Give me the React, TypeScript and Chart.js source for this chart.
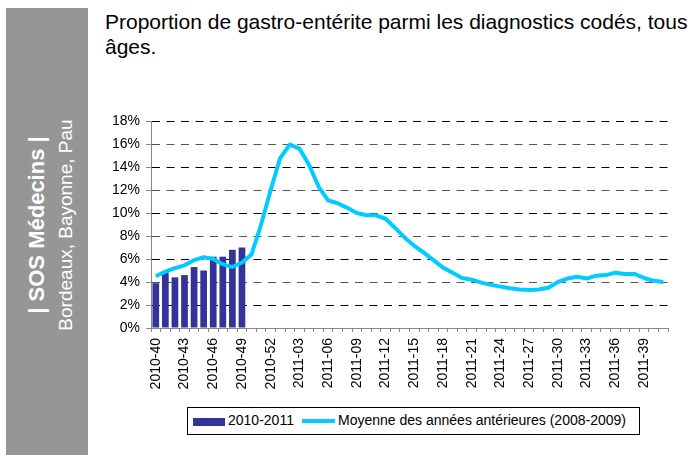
import React, { useEffect, useRef } from "react";
import { Chart, registerables } from "chart.js";

Chart.register(...registerables);

const categories = [
  "2010-40", "2010-41", "2010-42", "2010-43", "2010-44", "2010-45", "2010-46", "2010-47", "2010-48",
  "2010-49", "2010-50", "2010-51", "2010-52",
  "2011-01", "2011-02", "2011-03", "2011-04", "2011-05", "2011-06", "2011-07", "2011-08", "2011-09",
  "2011-10", "2011-11", "2011-12", "2011-13", "2011-14", "2011-15", "2011-16", "2011-17", "2011-18",
  "2011-19", "2011-20", "2011-21", "2011-22", "2011-23", "2011-24", "2011-25", "2011-26", "2011-27",
  "2011-28", "2011-29", "2011-30", "2011-31", "2011-32", "2011-33", "2011-34", "2011-35", "2011-36",
  "2011-37", "2011-38", "2011-39", "2011-40", "2011-41",
];

const seriesBars = [3.9, 4.8, 4.4, 4.6, 5.3, 5.0, 6.2, 6.2, 6.8, 7.0];

const seriesAverage = [
  4.5, 4.9, 5.2, 5.45, 5.9, 6.15, 6.0, 5.55, 5.3, 5.7,
  6.4, 9.0, 12.0, 14.8, 15.95, 15.6, 14.2, 12.3, 11.1, 10.85,
  10.45, 10.0, 9.8, 9.8, 9.5, 8.7, 7.85, 7.15, 6.55, 5.9,
  5.25, 4.8, 4.35, 4.2, 3.95, 3.75, 3.6, 3.45, 3.35, 3.3,
  3.35, 3.5, 4.0, 4.3, 4.45, 4.3, 4.55, 4.6, 4.8, 4.7,
  4.7, 4.35, 4.1, 4.0,
];

const yTicks = [0, 2, 4, 6, 8, 10, 12, 14, 16, 18];

const seriesNames = ["2010-2011", "Moyenne des années antérieures (2008-2009)"];
const titleLines = ["Proportion de gastro-entérite parmi les diagnostics codés, tous", "âges."];
const bandTitle = "| SOS Médecins |";
const bandSubtitle = "Bordeaux, Bayonne, Pau";

const BAR_COLOR = "#333399";
const LINE_COLOR = "#00CCFF";
const FONT = '"Liberation Sans", Arial, sans-serif';

export default function App() {
  const ref = useRef<HTMLCanvasElement>(null);

  useEffect(() => {
    const chart = new Chart(ref.current!, {
      type: "bar",
      data: {
        labels: categories,
        datasets: [
          {
            type: "line",
            label: seriesNames[1],
            data: seriesAverage,
            borderColor: LINE_COLOR,
            backgroundColor: LINE_COLOR,
            borderWidth: 4,
            pointRadius: 0,
            tension: 0,
            order: 0,
            borderJoinStyle: "round",
          } as any,
          {
            type: "bar",
            label: seriesNames[0],
            data: seriesBars,
            backgroundColor: BAR_COLOR,
            categoryPercentage: 1,
            barPercentage: 0.7,
            order: 1,
          },
        ],
      },
      options: {
        responsive: false,
        animation: false,
        layout: { padding: { left: 0, right: 28, top: 21, bottom: 0 } },
        plugins: { legend: { display: false }, tooltip: { enabled: false } },
        scales: {
          x: {
            offset: true,
            grid: {
              offset: true,
              drawOnChartArea: false,
              drawTicks: true,
              tickLength: 4,
              tickColor: "#888888",
              color: "#888888",
            },
            border: { display: true, color: "#888888", width: 1 },
            ticks: {
              autoSkip: false,
              maxRotation: 90,
              minRotation: 90,
              padding: 6,
              color: "#000",
              font: { family: FONT, size: 14 },
              callback: (_v: any, i: number) => (i % 3 === 0 ? categories[i] : ""),
            },
            afterFit: (s: any) => {
              s.height = 72;
            },
          },
          y: {
            min: yTicks[0],
            max: yTicks[yTicks.length - 1],
            afterBuildTicks: (s: any) => {
              s.ticks = yTicks.map((v) => ({ value: v }));
            },
            grid: {
              color: (c: any) =>
                c.tick && c.tick.value === 0 ? "rgba(0,0,0,0)" : c.tick && c.tick.value % 4 === 0 ? "#555555" : "#000000",
              lineWidth: 1,
              tickLength: 5,
              tickColor: "#888888",
            },
            border: { display: true, color: "#888888", width: 1, dash: [8, 6.5] },
            ticks: {
              padding: 6,
              color: "#000",
              font: { family: FONT, size: 14 },
              callback: (v: any) => v + "%",
            },
            afterFit: (s: any) => {
              s.width = 56;
            },
          },
        },
      },
    });
    return () => chart.destroy();
  }, []);

  return (
    <div
      style={{
        position: "absolute",
        left: 0,
        top: 0,
        width: 696,
        height: 463,
        background: "#fff",
        fontFamily: FONT,
        overflow: "hidden",
      }}
    >
      <div style={{ position: "absolute", left: 6, top: 8, width: 82, height: 447, background: "#969696" }} />
      <div
        style={{
          position: "absolute",
          left: 51 - 180,
          top: 225 - 26,
          width: 360,
          height: 52,
          transform: "rotate(-90deg)",
          color: "#fff",
          textAlign: "center",
          whiteSpace: "nowrap",
        }}
      >
        <div style={{ fontWeight: "bold", fontSize: 22, lineHeight: "24px" }}>{bandTitle}</div>
        <div style={{ fontSize: 19, lineHeight: "22px", marginTop: 6 }}>{bandSubtitle}</div>
      </div>
      <div
        style={{
          position: "absolute",
          left: 105,
          top: 9,
          fontSize: 21,
          lineHeight: "25px",
          whiteSpace: "nowrap",
          color: "#000",
        }}
      >
        {titleLines[0]}
        <br />
        {titleLines[1]}
      </div>
      <div style={{ position: "absolute", left: 95, top: 100, width: 601, height: 300 }}>
        <canvas ref={ref} width={601} height={300} style={{ display: "block" }} />
      </div>
      <div
        style={{
          position: "absolute",
          left: 187,
          top: 407,
          width: 453,
          height: 28,
          boxSizing: "border-box",
          border: "1px solid #000",
          fontSize: 14,
          color: "#000",
        }}
      >
        <div style={{ position: "absolute", left: 5, top: 10, width: 32, height: 8, background: BAR_COLOR }} />
        <div style={{ position: "absolute", left: 40, top: 4, lineHeight: "17px", whiteSpace: "nowrap" }}>
          {seriesNames[0]}
        </div>
        <div style={{ position: "absolute", left: 114, top: 11, width: 33, height: 4, background: LINE_COLOR }} />
        <div style={{ position: "absolute", left: 150, top: 4, lineHeight: "17px", whiteSpace: "nowrap" }}>
          {seriesNames[1]}
        </div>
      </div>
    </div>
  );
}
